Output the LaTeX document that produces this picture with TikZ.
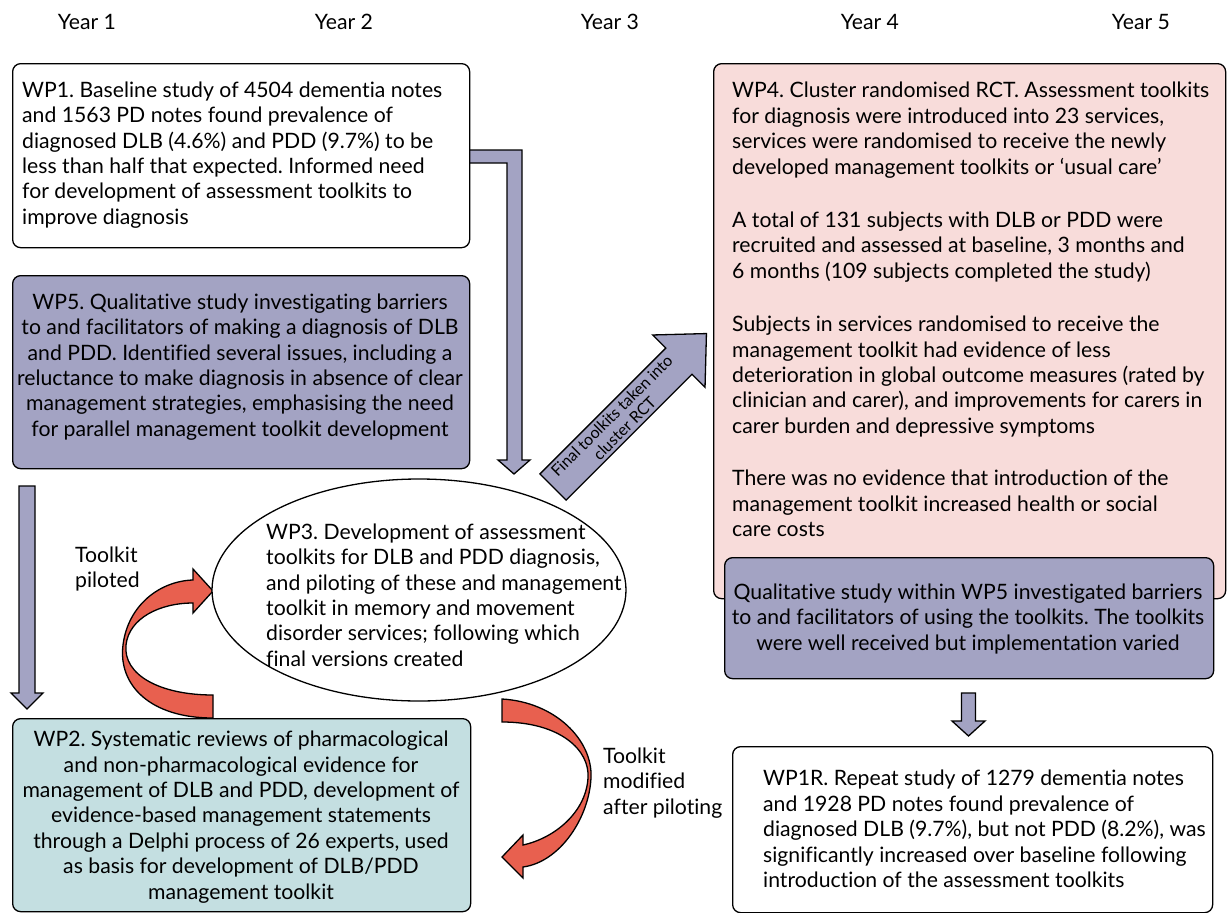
\documentclass[tikz,border=0pt]{standalone}
\usepackage{fontspec}
\setmainfont{Lato}[Ligatures=NoCommon]
\usetikzlibrary{shapes.geometric}
\definecolor{wpPurple}{HTML}{A3A3C3}
\definecolor{wpPink}{HTML}{F8DCDA}
\definecolor{wpTeal}{HTML}{C4DFE1}
\definecolor{wpRed}{HTML}{E8604F}
\frenchspacing
\begin{document}
\begin{tikzpicture}[x=1pt,y=-1pt,
  box/.style={draw=black, line width=1.3pt, rounded corners=8pt, inner sep=0pt, anchor=north west},
  txt/.style={inner sep=0pt, font=\fontsize{21.2}{25.4}\selectfont},
  small/.style={inner sep=0pt, font=\fontsize{16}{18}\selectfont},
  blockarrow/.style={draw=black, line width=1.3pt, fill=wpPurple, line join=miter},
  redarrow/.style={draw=black, line width=1.3pt, fill=wpRed, line join=miter},
]
\useasboundingbox (0,0) rectangle (1227,913);

% year labels
\node[txt] (y1) at (87,22) {Year 1};
\node[txt] (y2) at (344,22) {Year 2};
\node[txt] (y3) at (610,22) {Year 3};
\node[txt] (y4) at (870,22) {Year 4};
\node[txt] (y5) at (1141,22) {Year 5};

% arrows behind
\draw[blockarrow] (469,150) -- (522,150) -- (522,460) -- (530,460) -- (514,474) -- (498,460) -- (507,460) -- (507,163) -- (469,163) -- cycle;
\draw[blockarrow] (19,486) -- (35,486) -- (35,693) -- (43,693) -- (27,709) -- (11,693) -- (19,693) -- cycle;
\draw[blockarrow] (961.5,693) -- (975.5,693) -- (975.5,721) -- (985,721) -- (968.5,736) -- (952,721) -- (961.5,721) -- cycle;
\begin{scope}[shift={(553,487)}, rotate=45]
\draw[blockarrow] (0,-18.5) -- (178,-18.5) -- (178,-37) -- (217,0) -- (178,37) -- (178,18.5) -- (0,18.5) -- cycle;
\node[small, align=center, rotate=45] (final) at (92,0) {Final toolkits taken into\\cluster RCT};
\end{scope}

% WP1
\node[box, fill=white, minimum width=457, minimum height=184] (wp1) at (12,63) {};
\node[txt, anchor=west, align=left] (wp1t) at (22,155) {WP1. Baseline study of 4504 dementia notes\\and 1563 PD notes found prevalence of\\diagnosed DLB (4.6\%) and PDD (9.7\%) to be\\less than half that expected. Informed need\\for development of assessment toolkits to\\improve diagnosis};

% WP5
\node[box, fill=wpPurple, minimum width=457, minimum height=193] (wp5) at (12,275) {};
\node[txt, align=center] (wp5t) at (240,367) {WP5. Qualitative study investigating barriers\\to and facilitators of making a diagnosis of DLB\\and PDD. Identified several issues, including a\\reluctance to make diagnosis in absence of clear\\management strategies, emphasising the need\\for parallel management toolkit development};

% WP2
\node[box, fill=wpTeal, minimum width=458, minimum height=193] (wp2) at (12,718) {};
\node[txt, align=center] (wp2t) at (241,817) {WP2. Systematic reviews of pharmacological\\and non-pharmacological evidence for\\management of DLB and PDD, development of\\evidence-based management statements\\through a Delphi process of 26 experts, used\\as basis for development of DLB/PDD\\management toolkit};

% red arrows
\draw[redarrow] (213,718) .. controls (150,718) and (118,685) .. (123,645) .. controls (128,605) and (160,581) .. (193,580) -- (193,569) -- (213,591) -- (193,613) -- (193,603) .. controls (160,603) and (129,618) .. (126,645) .. controls (123,675) and (160,695) .. (213,695) -- cycle;
\draw[redarrow] (502,699) .. controls (555,702) and (593,740) .. (591,778) .. controls (589,818) and (560,862) .. (523,867) -- (523,878) -- (502,857) -- (523,835) -- (523,845) .. controls (555,838) and (586,812) .. (588,778) .. controls (590,750) and (560,722) .. (502,722) -- cycle;

% WP3 ellipse
\node[draw=black, line width=1.3pt, ellipse, fill=white, inner sep=0pt, minimum width=414, minimum height=222] (wp3) at (419,590) {};
\node[txt, anchor=west, align=left] (wp3t) at (266,595) {WP3. Development of assessment\\toolkits for DLB and PDD diagnosis,\\and piloting of these and management\\toolkit in memory and movement\\disorder services; following which\\final versions created};

% WP4
\node[box, fill=wpPink, minimum width=512, minimum height=535] (wp4) at (713,63) {};
\node[txt, anchor=north west, align=left] (wp4t) at (732,82) {WP4. Cluster randomised RCT. Assessment toolkits\\for diagnosis were introduced into 23 services,\\services were randomised to receive the newly\\developed management toolkits or `usual care'\\[28pt]A total of 131 subjects with DLB or PDD were\\recruited and assessed at baseline, 3 months and\\6 months (109 subjects completed the study)\\[28pt]Subjects in services randomised to receive the\\management toolkit had evidence of less\\deterioration in global outcome measures (rated by\\clinician and carer), and improvements for carers in\\carer burden and depressive symptoms\\[27pt]There was no evidence that introduction of the\\management toolkit increased health or social\\care costs};

% Qualitative
\node[box, fill=wpPurple, minimum width=489, minimum height=121] (qual) at (724,557) {};
\node[txt, align=center] (qualt) at (968,619) {Qualitative study within WP5 investigated barriers\\to and facilitators of using the toolkits. The toolkits\\were well received but implementation varied};

% WP1R
\node[box, fill=white, minimum width=480, minimum height=166] (wp1r) at (732,746) {};
\node[txt, anchor=west, align=left] (wp1rt) at (763,829) {WP1R. Repeat study of 1279 dementia notes\\and 1928 PD notes found prevalence of\\diagnosed DLB (9.7\%), but not PDD (8.2\%), was\\significantly increased over baseline following\\introduction of the assessment toolkits};

% labels
\node[txt, anchor=west, align=left] (lpil) at (75,569) {Toolkit\\piloted};
\node[txt, anchor=west, align=left] (lmod) at (603,783) {Toolkit\\modified\\after piloting};
\end{tikzpicture}
\end{document}
